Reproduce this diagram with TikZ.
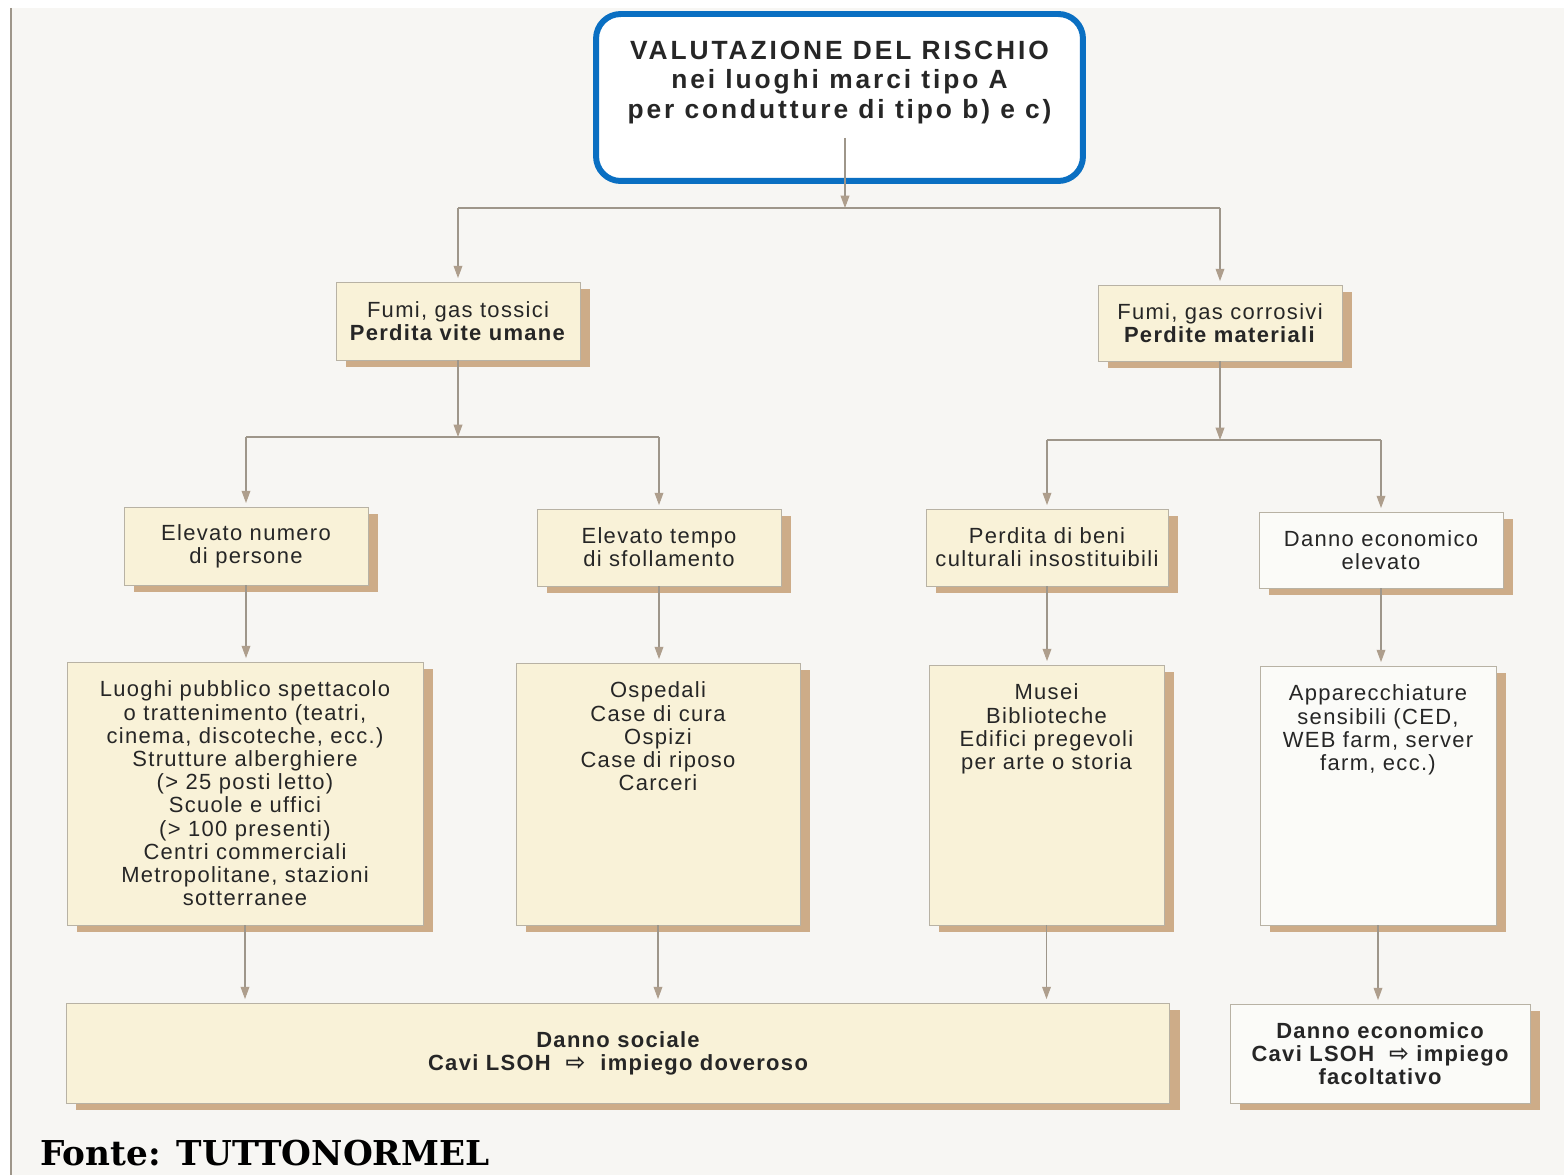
\documentclass[tikz,border=0pt]{standalone}
\usepackage{fontspec}
\usetikzlibrary{arrows.meta,shadows}
\newfontfamily\diafont{Liberation Sans}[LetterSpace=6]
\newfontfamily\headfont{Liberation Sans}[LetterSpace=11]
\newfontfamily\sourcefont{DejaVu Serif}
\newfontfamily\arrowfont{DejaVu Sans}
\definecolor{pagebg}{HTML}{F7F6F3}
\definecolor{boxcream}{HTML}{F9F2D8}
\definecolor{boxwhite}{HTML}{FBFBF8}
\definecolor{shadowtan}{HTML}{CDAC88}
\definecolor{linegrey}{HTML}{9E968A}
\definecolor{tipgrey}{HTML}{AE9E8C}
\definecolor{edgegrey}{HTML}{B8B2A4}
\definecolor{titleblue}{HTML}{0A6FC2}
\definecolor{inkgrey}{HTML}{262626}
% text block pinned to the top of a fixed-size box
\newcommand{\toptext}[4]{\begin{minipage}[c][#2][t]{#1}\centering\vspace*{#3}#4\end{minipage}}
\newcommand{\lsoh}{{\arrowfont\fontsize{13.5}{13}\selectfont ⇨}}

\begin{document}
\begin{tikzpicture}[x=0.02cm,y=-0.02cm,
    font=\diafont\fontsize{12.5}{13.2}\selectfont,text=inkgrey,
    base box/.style={draw=edgegrey,line width=0.5pt,align=center,inner sep=0pt,
      drop shadow={shadow xshift=5.5pt,shadow yshift=-3.8pt,fill=shadowtan,opacity=1}},
    cream box/.style={base box,fill=boxcream},
    white box/.style={base box,fill=boxwhite},
    small box/.style={minimum width=4.88cm,minimum height=1.54cm},
    bold box/.style={font=\diafont\bfseries\fontsize{12.5}{13.2}\selectfont},
    link/.style={draw=linegrey,line width=0.6pt},
    arrow link/.style={link,-{Triangle[length=7pt,width=5pt,color=tipgrey]}},
    to box/.style={arrow link,shorten >=2pt}]
  \useasboundingbox (0,0) rectangle (1564,1175);
  \fill[white] (0,0) rectangle (1564,1175);
  \fill[pagebg] (10,8) rectangle (1564,1175);
  \draw[linegrey,line width=1.2pt] (11,8) -- (11,1175);

  % titolo
  \node[draw=titleblue,line width=3.4pt,rounded corners=14pt,fill=white,inner sep=0pt,
    font=\headfont\bfseries\fontsize{15}{16.7}\selectfont] (title) at (839.5,97.5)
    {\toptext{9.74cm}{3.34cm}{0.54cm}{VALUTAZIONE DEL RISCHIO\\nei luoghi marci tipo A\\per condutture di tipo b) e c)}};

  % primo livello
  \node[cream box,small box,minimum height=1.56cm] (A1) at (458,321) {Fumi, gas tossici\\\textbf{Perdita vite umane}};
  \node[cream box,small box,minimum height=1.52cm] (A2) at (1220,323) {Fumi, gas corrosivi\\\textbf{Perdite materiali}};

  % secondo livello
  \node[cream box,small box,minimum height=1.56cm] (B1) at (246,546) {Elevato numero\\di persone};
  \node[cream box,small box] (B2) at (659,547.5) {Elevato tempo\\di sfollamento};
  \node[cream box,small box,minimum width=4.84cm] (B3) at (1047,547.5) {Perdita di beni\\culturali insostituibili};
  \node[white box,small box,minimum height=1.52cm] (B4) at (1381,550) {Danno economico\\elevato};

  % terzo livello
  \node[cream box] (C1) at (245,793.5) {\toptext{7.12cm}{5.26cm}{0.38cm}{Luoghi pubblico spettacolo\\o trattenimento (teatri,\\cinema, discoteche, ecc.)\\Strutture alberghiere\\(> 25 posti letto)\\Scuole e uffici\\(> 100 presenti)\\Centri commerciali\\Metropolitane, stazioni\\sotterranee}};
  \node[cream box] (C2) at (658,794) {\toptext{5.68cm}{5.24cm}{0.38cm}{Ospedali\\Case di cura\\Ospizi\\Case di riposo\\Carceri}};
  \node[cream box] (C3) at (1046.5,795) {\toptext{4.70cm}{5.20cm}{0.38cm}{Musei\\Biblioteche\\Edifici pregevoli\\per arte o storia}};
  \node[white box] (C4) at (1378,795.5) {\toptext{4.72cm}{5.18cm}{0.38cm}{Apparecchiature\\sensibili (CED,\\WEB farm, server\\farm, ecc.)}};

  % conclusioni
  \node[cream box,bold box,minimum width=22.08cm,minimum height=2.0cm] (D1) at (618,1053)
    {Danno sociale\\Cavi LSOH\ \ \lsoh\ \ impiego doveroso};
  \node[white box,bold box,minimum width=6.0cm,minimum height=1.98cm] (D2) at (1380,1053.5)
    {Danno economico\\Cavi LSOH\ \ \lsoh\ impiego\\facoltativo};

  \node[anchor=west,inner sep=0pt,text=black,font=\sourcefont\bfseries\fontsize{19.5}{22}\selectfont] (fonte) at (40,1153) {Fonte: TUTTONORMEL};

  % collegamenti
  \coordinate (t0) at (845,138);
  \coordinate (j0) at (845,208);
  \coordinate (j1) at (458,437);
  \coordinate (j2) at (1220,440);
  \draw[arrow link] (t0) -- (j0);
  \draw[link] (A1.north |- j0) -- (A2.north |- j0);
  \draw[to box] (A1.north |- j0) -- (A1.north);
  \draw[to box] (A2.north |- j0) -- (A2.north);
  \draw[arrow link] (A1.south) -- (j1);
  \draw[arrow link] (A2.south) -- (j2);
  \draw[link] (B1.north |- j1) -- (B2.north |- j1);
  \draw[link] (B3.north |- j2) -- (B4.north |- j2);
  \foreach \b in {B1,B2} \draw[to box] (\b.north |- j1) -- (\b.north);
  \foreach \b in {B3,B4} \draw[to box] (\b.north |- j2) -- (\b.north);
  \foreach \b/\c in {B1/C1,B2/C2,B3/C3,B4/C4} \draw[to box] (\b.south) -- (\b.south |- \c.north);
  \foreach \c in {C1,C2,C3} \draw[to box] (\c.south) -- (\c.south |- D1.north);
  \draw[to box] (C4.south) -- (C4.south |- D2.north);
\end{tikzpicture}
\end{document}
